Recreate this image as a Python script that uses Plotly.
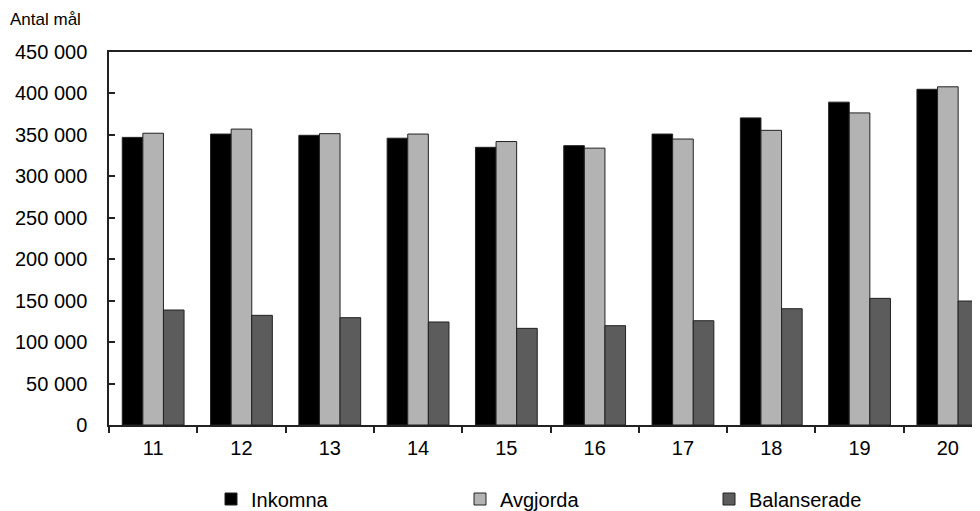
import plotly.graph_objects as go

categories = ["11", "12", "13", "14", "15", "16", "17", "18", "19", "20"]
inkomna = [347000, 351000, 349500, 346000, 335000, 337000, 351000, 370500, 389500, 405000]
avgjorda = [352000, 357000, 351500, 351000, 342000, 334000, 345000, 355500, 376500, 408000]
balanserade = [138700, 132300, 129500, 124300, 116600, 119800, 125800, 140300, 152800, 149600]

FONT = "Liberation Sans, Arial, sans-serif"
OFF = 8  # page body margin
W, H = 980 - OFF, 511 - OFF
L, T, B = 109 - OFF, 52 - OFF, H - (425 - OFF)
plot_w = W - L
plot_h = H - T - B

fig = go.Figure()
for name, vals, col in [("Inkomna", inkomna, "#000000"),
                        ("Avgjorda", avgjorda, "#b3b3b3"),
                        ("Balanserade", balanserade, "#5c5c5c")]:
    fig.add_trace(go.Bar(x=categories, y=vals, name=name,
                         marker=dict(color=col, line=dict(color="#222222", width=1))))

fig.update_layout(
    width=W, height=H,
    margin=dict(l=L, r=0, t=T, b=B, pad=0, autoexpand=False),
    paper_bgcolor="white", plot_bgcolor="white",
    barmode="group", bargap=0.3, bargroupgap=0,
    separators=", ",
    font=dict(family=FONT, size=20, color="#000000"),
    showlegend=True,
    legend=dict(orientation="h", xref="container", yref="container",
                x=(211 - OFF) / W, xanchor="left",
                y=(H - (499 - OFF)) / H, yanchor="middle",
                entrywidth=204, entrywidthmode="pixels",
                font=dict(family=FONT, size=20, color="#000000"),
                bgcolor="rgba(0,0,0,0)", traceorder="normal"),
    annotations=[dict(text="Antal mål", xref="paper", yref="paper",
                      x=(8 - OFF - L) / plot_w, xanchor="left",
                      y=(H - B - (20 - OFF)) / plot_h, yanchor="middle",
                      showarrow=False, font=dict(family=FONT, size=17, color="#000000"))],
)

fig.update_xaxes(type="category", range=[-0.5, -0.5 + plot_w / 88.3],
                 showline=True, linecolor="#222222", linewidth=1.5, mirror=True,
                 ticks="outside", tickson="boundaries", ticklen=6, tickwidth=1.5,
                 tickcolor="#222222", showgrid=False, zeroline=False,
                 ticklabelstandoff=4, automargin=False,
                 tickfont=dict(family=FONT, size=20, color="#000000"))
fig.update_yaxes(range=[0, 450000], dtick=50000, tickformat=",d",
                 showline=True, linecolor="#222222", linewidth=1.5, mirror=False,
                 ticks="inside", ticklen=6, tickwidth=1.5, tickcolor="#222222",
                 showgrid=False, zeroline=False, ticklabelstandoff=16, automargin=False,
                 tickfont=dict(family=FONT, size=20, color="#000000"))

fig.write_html("out.html")
